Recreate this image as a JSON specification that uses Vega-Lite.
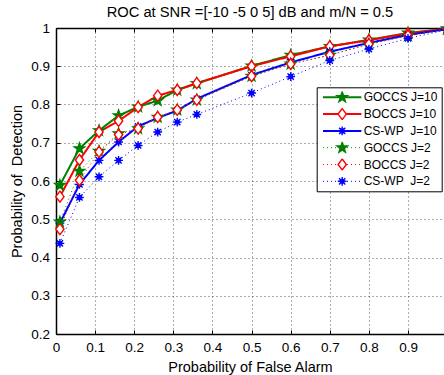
{
  "$schema": "https://vega.github.io/schema/vega-lite/v6.json",
  "autosize": {"type": "none"},
  "padding": {"left": 56, "top": 28, "right": 0, "bottom": 41},
  "width": 388,
  "height": 306,
  "title": {"text": "ROC at SNR =[-10 -5 0 5] dB and m/N = 0.5", "font": "Liberation Sans", "fontSize": 14.7, "fontWeight": "normal", "color": "black", "anchor": "middle", "frame": "group", "baseline": "alphabetic", "offset": 9, "dy": 20},
  "data": {"values": [
    {"series": "GOCCS J=10", "pfa": 0.01, "pd": 0.589}, {"series": "GOCCS J=10", "pfa": 0.06, "pd": 0.685}, {"series": "GOCCS J=10", "pfa": 0.11, "pd": 0.732}, {"series": "GOCCS J=10", "pfa": 0.16, "pd": 0.771}, {"series": "GOCCS J=10", "pfa": 0.21, "pd": 0.794}, {"series": "GOCCS J=10", "pfa": 0.26, "pd": 0.810}, {"series": "GOCCS J=10", "pfa": 0.31, "pd": 0.838}, {"series": "GOCCS J=10", "pfa": 0.36, "pd": 0.855}, {"series": "GOCCS J=10", "pfa": 0.5, "pd": 0.901}, {"series": "GOCCS J=10", "pfa": 0.6, "pd": 0.929}, {"series": "GOCCS J=10", "pfa": 0.7, "pd": 0.952}, {"series": "GOCCS J=10", "pfa": 0.8, "pd": 0.969}, {"series": "GOCCS J=10", "pfa": 0.9, "pd": 0.987}, {"series": "GOCCS J=10", "pfa": 1.0, "pd": 0.998},
    {"series": "BOCCS J=10", "pfa": 0.01, "pd": 0.559}, {"series": "BOCCS J=10", "pfa": 0.06, "pd": 0.655}, {"series": "BOCCS J=10", "pfa": 0.11, "pd": 0.728}, {"series": "BOCCS J=10", "pfa": 0.16, "pd": 0.757}, {"series": "BOCCS J=10", "pfa": 0.21, "pd": 0.793}, {"series": "BOCCS J=10", "pfa": 0.26, "pd": 0.823}, {"series": "BOCCS J=10", "pfa": 0.31, "pd": 0.838}, {"series": "BOCCS J=10", "pfa": 0.36, "pd": 0.856}, {"series": "BOCCS J=10", "pfa": 0.5, "pd": 0.900}, {"series": "BOCCS J=10", "pfa": 0.6, "pd": 0.926}, {"series": "BOCCS J=10", "pfa": 0.7, "pd": 0.952}, {"series": "BOCCS J=10", "pfa": 0.8, "pd": 0.968}, {"series": "BOCCS J=10", "pfa": 0.9, "pd": 0.986}, {"series": "BOCCS J=10", "pfa": 1.0, "pd": 0.998},
    {"series": "CS-WP\u00a0 J=10", "pfa": 0.01, "pd": 0.490}, {"series": "CS-WP\u00a0 J=10", "pfa": 0.06, "pd": 0.591}, {"series": "CS-WP\u00a0 J=10", "pfa": 0.11, "pd": 0.654}, {"series": "CS-WP\u00a0 J=10", "pfa": 0.16, "pd": 0.702}, {"series": "CS-WP\u00a0 J=10", "pfa": 0.21, "pd": 0.743}, {"series": "CS-WP\u00a0 J=10", "pfa": 0.26, "pd": 0.765}, {"series": "CS-WP\u00a0 J=10", "pfa": 0.31, "pd": 0.784}, {"series": "CS-WP\u00a0 J=10", "pfa": 0.36, "pd": 0.815}, {"series": "CS-WP\u00a0 J=10", "pfa": 0.5, "pd": 0.877}, {"series": "CS-WP\u00a0 J=10", "pfa": 0.6, "pd": 0.910}, {"series": "CS-WP\u00a0 J=10", "pfa": 0.7, "pd": 0.938}, {"series": "CS-WP\u00a0 J=10", "pfa": 0.8, "pd": 0.961}, {"series": "CS-WP\u00a0 J=10", "pfa": 0.9, "pd": 0.982}, {"series": "CS-WP\u00a0 J=10", "pfa": 1.0, "pd": 0.997},
    {"series": "GOCCS J=2", "pfa": 0.01, "pd": 0.493}, {"series": "GOCCS J=2", "pfa": 0.06, "pd": 0.626}, {"series": "GOCCS J=2", "pfa": 0.11, "pd": 0.678}, {"series": "GOCCS J=2", "pfa": 0.16, "pd": 0.724}, {"series": "GOCCS J=2", "pfa": 0.21, "pd": 0.737}, {"series": "GOCCS J=2", "pfa": 0.26, "pd": 0.767}, {"series": "GOCCS J=2", "pfa": 0.31, "pd": 0.786}, {"series": "GOCCS J=2", "pfa": 0.36, "pd": 0.812}, {"series": "GOCCS J=2", "pfa": 0.5, "pd": 0.874}, {"series": "GOCCS J=2", "pfa": 0.6, "pd": 0.906}, {"series": "GOCCS J=2", "pfa": 0.7, "pd": 0.929}, {"series": "GOCCS J=2", "pfa": 0.8, "pd": 0.958}, {"series": "GOCCS J=2", "pfa": 0.9, "pd": 0.980}, {"series": "GOCCS J=2", "pfa": 1.0, "pd": 0.997},
    {"series": "BOCCS J=2", "pfa": 0.01, "pd": 0.474}, {"series": "BOCCS J=2", "pfa": 0.06, "pd": 0.602}, {"series": "BOCCS J=2", "pfa": 0.11, "pd": 0.676}, {"series": "BOCCS J=2", "pfa": 0.16, "pd": 0.721}, {"series": "BOCCS J=2", "pfa": 0.21, "pd": 0.737}, {"series": "BOCCS J=2", "pfa": 0.26, "pd": 0.767}, {"series": "BOCCS J=2", "pfa": 0.31, "pd": 0.786}, {"series": "BOCCS J=2", "pfa": 0.36, "pd": 0.812}, {"series": "BOCCS J=2", "pfa": 0.5, "pd": 0.874}, {"series": "BOCCS J=2", "pfa": 0.6, "pd": 0.906}, {"series": "BOCCS J=2", "pfa": 0.7, "pd": 0.929}, {"series": "BOCCS J=2", "pfa": 0.8, "pd": 0.958}, {"series": "BOCCS J=2", "pfa": 0.9, "pd": 0.980}, {"series": "BOCCS J=2", "pfa": 1.0, "pd": 0.997},
    {"series": "CS-WP\u00a0 J=2", "pfa": 0.01, "pd": 0.437}, {"series": "CS-WP\u00a0 J=2", "pfa": 0.06, "pd": 0.557}, {"series": "CS-WP\u00a0 J=2", "pfa": 0.11, "pd": 0.611}, {"series": "CS-WP\u00a0 J=2", "pfa": 0.16, "pd": 0.654}, {"series": "CS-WP\u00a0 J=2", "pfa": 0.21, "pd": 0.693}, {"series": "CS-WP\u00a0 J=2", "pfa": 0.26, "pd": 0.728}, {"series": "CS-WP\u00a0 J=2", "pfa": 0.31, "pd": 0.754}, {"series": "CS-WP\u00a0 J=2", "pfa": 0.36, "pd": 0.774}, {"series": "CS-WP\u00a0 J=2", "pfa": 0.5, "pd": 0.830}, {"series": "CS-WP\u00a0 J=2", "pfa": 0.6, "pd": 0.873}, {"series": "CS-WP\u00a0 J=2", "pfa": 0.7, "pd": 0.915}, {"series": "CS-WP\u00a0 J=2", "pfa": 0.8, "pd": 0.945}, {"series": "CS-WP\u00a0 J=2", "pfa": 0.9, "pd": 0.973}, {"series": "CS-WP\u00a0 J=2", "pfa": 1.0, "pd": 0.995}
  ]},
  "resolve": {
    "axis": {"x": "independent"},
    "legend": {"stroke": "independent", "strokeDash": "independent", "strokeWidth": "independent", "color": "independent", "fill": "independent", "shape": "independent"}
  },
  "layer": [
    {
      "mark": {"type": "line", "opacity": 1, "strokeCap": "butt"},
      "encoding": {
        "x": {"field": "pfa", "type": "quantitative", "scale": {"domain": [0, 0.992], "nice": false, "zero": false},
          "axis": {"orient": "bottom", "values": [0, 0.1, 0.2, 0.3, 0.4, 0.5, 0.6, 0.7, 0.8, 0.9], "format": "~g", "title": "Probability of False Alarm", "grid": true, "labelFlush": false}},
        "y": {"field": "pd", "type": "quantitative", "scale": {"domain": [0.2, 1], "nice": false, "zero": false},
          "axis": {"orient": "left", "values": [0.2, 0.3, 0.4, 0.5, 0.6, 0.7, 0.8, 0.9, 1], "format": "~g", "title": "Probability of\u00a0 Detection", "grid": true, "labelFlush": false}},
        "stroke": {"field": "series", "type": "nominal",
          "scale": {"domain": ["GOCCS J=10", "BOCCS J=10", "CS-WP\u00a0 J=10", "GOCCS J=2", "BOCCS J=2", "CS-WP\u00a0 J=2"], "range": ["#008000", "#ff0000", "#0000ff", "#008000", "#ff0000", "#0000ff"]},
          "legend": {"title": null, "symbolType": "stroke", "symbolSize": 1475, "symbolOffset": 1, "labelOffset": 1, "strokeColor": "black", "fillColor": "white"}},
        "strokeDash": {"field": "series", "type": "nominal",
          "scale": {"domain": ["GOCCS J=10", "BOCCS J=10", "CS-WP\u00a0 J=10", "GOCCS J=2", "BOCCS J=2", "CS-WP\u00a0 J=2"], "range": [[1, 0], [1, 0], [1, 0], [1, 3], [1, 3], [1, 3]]},
          "legend": {"title": null}},
        "strokeWidth": {"field": "series", "type": "nominal",
          "scale": {"type": "ordinal", "domain": ["GOCCS J=10", "BOCCS J=10", "CS-WP\u00a0 J=10", "GOCCS J=2", "BOCCS J=2", "CS-WP\u00a0 J=2"], "range": [2, 2, 2, 1, 1, 1]},
          "legend": {"title": null}}
      }
    },
    {
      "mark": {"type": "point", "filled": false, "size": 121, "strokeWidth": 1.4, "opacity": 1},
      "encoding": {
        "x": {"field": "pfa", "type": "quantitative",
          "axis": {"orient": "top", "values": [0, 0.1, 0.2, 0.3, 0.4, 0.5, 0.6, 0.7, 0.8, 0.9], "labels": false, "grid": false, "title": null}},
        "y": {"field": "pd", "type": "quantitative",
          "axis": {"orient": "left", "values": [0.2, 0.3, 0.4, 0.5, 0.6, 0.7, 0.8, 0.9, 1], "format": "~g", "title": "Probability of\u00a0 Detection", "grid": true, "labelFlush": false}},
        "color": {"field": "series", "type": "nominal",
          "scale": {"domain": ["GOCCS J=10", "BOCCS J=10", "CS-WP\u00a0 J=10", "GOCCS J=2", "BOCCS J=2", "CS-WP\u00a0 J=2"], "range": ["#008000", "#ff0000", "#0000ff", "#008000", "#ff0000", "#0000ff"]},
          "legend": {"title": null, "symbolSize": 121, "symbolStrokeWidth": 1.4, "symbolOffset": 15, "labelExpr": "''"}},
        "fill": {"field": "series", "type": "nominal",
          "scale": {"domain": ["GOCCS J=10", "BOCCS J=10", "CS-WP\u00a0 J=10", "GOCCS J=2", "BOCCS J=2", "CS-WP\u00a0 J=2"], "range": ["#008000", "#ffffff", "#0000ff", "#008000", "#ffffff", "#0000ff"]},
          "legend": {"title": null}},
        "shape": {"field": "series", "type": "nominal",
          "scale": {"domain": ["GOCCS J=10", "BOCCS J=10", "CS-WP\u00a0 J=10", "GOCCS J=2", "BOCCS J=2", "CS-WP\u00a0 J=2"], "range": [
            "M0,-1L0.235,-0.324L0.951,-0.309L0.38,0.124L0.588,0.809L0,0.4L-0.588,0.809L-0.38,0.124L-0.951,-0.309L-0.235,-0.324Z",
            "M0,-1L0.75,0L0,1L-0.75,0Z",
            "M-0.8,0L0.8,0M0,-0.8L0,0.8M-0.57,-0.57L0.57,0.57M-0.57,0.57L0.57,-0.57M0.35,0A0.35,0.35,0,1,1,-0.35,0A0.35,0.35,0,1,1,0.35,0Z",
            "M0,-1L0.235,-0.324L0.951,-0.309L0.38,0.124L0.588,0.809L0,0.4L-0.588,0.809L-0.38,0.124L-0.951,-0.309L-0.235,-0.324Z",
            "M0,-1L0.75,0L0,1L-0.75,0Z",
            "M-0.8,0L0.8,0M0,-0.8L0,0.8M-0.57,-0.57L0.57,0.57M-0.57,0.57L0.57,-0.57M0.35,0A0.35,0.35,0,1,1,-0.35,0A0.35,0.35,0,1,1,0.35,0Z"]},
          "legend": {"title": null}}
      }
    }
  ],
  "config": {
    "font": "Liberation Sans",
    "view": {"stroke": null},
    "axis": {
      "labelFont": "Liberation Sans", "labelFontSize": 13.5, "labelColor": "black",
      "titleFont": "Liberation Sans", "titleFontSize": 14.5, "titleFontWeight": "normal", "titleColor": "black",
      "domainColor": "black", "domainWidth": 1.5, "tickColor": "black", "tickSize": -4, "tickWidth": 1,
      "labelPadding": 10.5, "titlePadding": 6,
      "gridColor": "#333333", "gridDash": [1, 3], "gridWidth": 1, "gridOpacity": 0.8
    },
    "legend": {
      "orient": "none", "legendX": 260.7, "legendY": 59.3, "padding": 4, "rowPadding": 4.8, "clipHeight": 12, "columns": 1,
      "labelFont": "Liberation Sans", "labelFontSize": 12, "labelColor": "black", "labelLimit": 300, "cornerRadius": 0
    }
  }
}
